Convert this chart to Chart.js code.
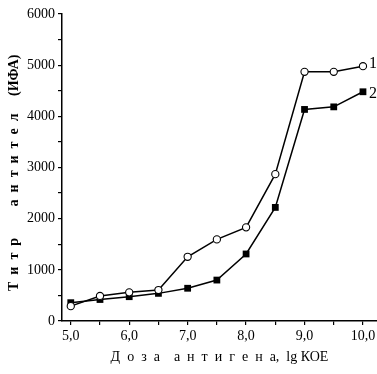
<!DOCTYPE html>
<html>
<head>
<meta charset="utf-8">
<script src="https://cdn.jsdelivr.net/npm/chart.js@4/dist/chart.umd.min.js"></script>
<style>
  html, body { margin: 0; padding: 0; background: #fff; }
  #wrap { width: 377px; height: 374px; }
</style>
</head>
<body>
<div id="wrap"><canvas id="chart"></canvas></div>
<script>
// doses, lg CFU
const doses = [5.0, 5.5, 6.0, 6.5, 7.0, 7.5, 8.0, 8.5, 9.0, 9.5, 10.0];
// antibody titre (ELISA)
const titre1 = [290, 490, 560, 605, 1255, 1595, 1830, 2870, 4870, 4870, 4980];
const titre2 = [358, 420, 475, 540, 640, 800, 1310, 2220, 4135, 4185, 4480];
const seriesNames = ["1", "2"];
const xTicks = [5.0, 5.5, 6.0, 6.5, 7.0, 7.5, 8.0, 8.5, 9.0, 9.5, 10.0];
const yTicks = [0, 500, 1000, 1500, 2000, 2500, 3000, 3500, 4000, 4500, 5000, 5500, 6000];

const serif = "'Liberation Serif', 'Times New Roman', serif";

// numbers "1" and "2" next to the last point of each line
const endLabels = {
  id: "endLabels",
  afterDatasetsDraw(chart) {
    const ctx = chart.ctx;
    ctx.save();
    ctx.fillStyle = "#000";
    ctx.font = "16px " + serif;
    ctx.textBaseline = "middle";
    chart.data.datasets.forEach((ds, i) => {
      const meta = chart.getDatasetMeta(i);
      const pt = meta.data[meta.data.length - 1];
      ctx.fillText(seriesNames[i], pt.x + 6, pt.y + (i == 0 ? -2 : 2));
    });
    ctx.restore();
  },
};

// keep the axes flush with the canvas edge (no padding for edge labels)
const noEdgePad = (scale) => {
  scale.paddingLeft = 0;
  scale.paddingRight = 0;
  scale.paddingTop = 0;
  scale.paddingBottom = 0;
};

new Chart(document.getElementById("chart"), {
  type: "line",
  data: {
    datasets: [
      {
        label: seriesNames[0],
        data: doses.map((d, i) => ({ x: d, y: titre1[i] })),
        borderColor: "#000",
        borderWidth: 1.5,
        pointStyle: "circle",
        pointRadius: 3.6,
        pointBackgroundColor: "#fff",
        pointBorderColor: "#000",
        pointBorderWidth: 1.1,
        tension: 0,
      },
      {
        label: seriesNames[1],
        data: doses.map((d, i) => ({ x: d, y: titre2[i] })),
        borderColor: "#000",
        borderWidth: 1.5,
        pointStyle: "rect",
        pointRadius: 4.8,
        pointBackgroundColor: "#000",
        pointBorderColor: "#000",
        pointBorderWidth: 0,
        tension: 0,
      },
    ],
  },
  options: {
    responsive: true,
    maintainAspectRatio: false,
    animation: false,
    layout: { autoPadding: false, padding: { top: 14, right: 0, left: 0, bottom: 0 } },
    plugins: { legend: { display: false }, tooltip: { enabled: false } },
    scales: {
      x: {
        type: "linear",
        min: 4.85,
        max: 10.24,
        afterBuildTicks: (scale) => {
          scale.ticks = xTicks.map((v) => ({ value: v }));
        },
        afterFit: (scale) => {
          scale.height = 53;
          noEdgePad(scale);
        },
        border: { display: true, color: "#000", width: 1.5 },
        grid: { drawOnChartArea: false, drawTicks: true, tickLength: 4, color: "#000", lineWidth: 1.2 },
        ticks: {
          color: "#000",
          padding: 3,
          maxRotation: 0,
          autoSkip: false,
          font: { family: serif, size: 14 },
          callback: (v) => (Number.isInteger(v) ? v.toFixed(1).replace(".", ",") : ""),
        },
        title: {
          display: true,
          text: "Д  о  з  а    а  н  т  и  г  е  н  а,  lg КОЕ",
          color: "#000",
          font: { family: serif, size: 14 },
          padding: { top: 0, bottom: 8 },
        },
      },
      y: {
        min: 0,
        max: 6000,
        afterBuildTicks: (scale) => {
          scale.ticks = yTicks.map((v) => ({ value: v }));
        },
        afterFit: (scale) => {
          scale.width = 62;
          noEdgePad(scale);
        },
        border: { display: true, color: "#000", width: 1.5 },
        grid: { drawOnChartArea: false, drawTicks: true, tickLength: 4, color: "#000", lineWidth: 1.2 },
        ticks: {
          color: "#000",
          padding: 3,
          autoSkip: false,
          font: { family: serif, size: 14 },
          callback: (v) => (v % 1000 == 0 ? String(v) : ""),
        },
        title: {
          display: true,
          text: "Т  и  т  р         а  н  т  и  т  е  л     (ИФА)   ",
          color: "#000",
          font: { family: serif, size: 14, weight: "bold" },
          padding: { top: 6, bottom: 0 },
        },
      },
    },
  },
  plugins: [endLabels],
});
</script>
</body>
</html>
